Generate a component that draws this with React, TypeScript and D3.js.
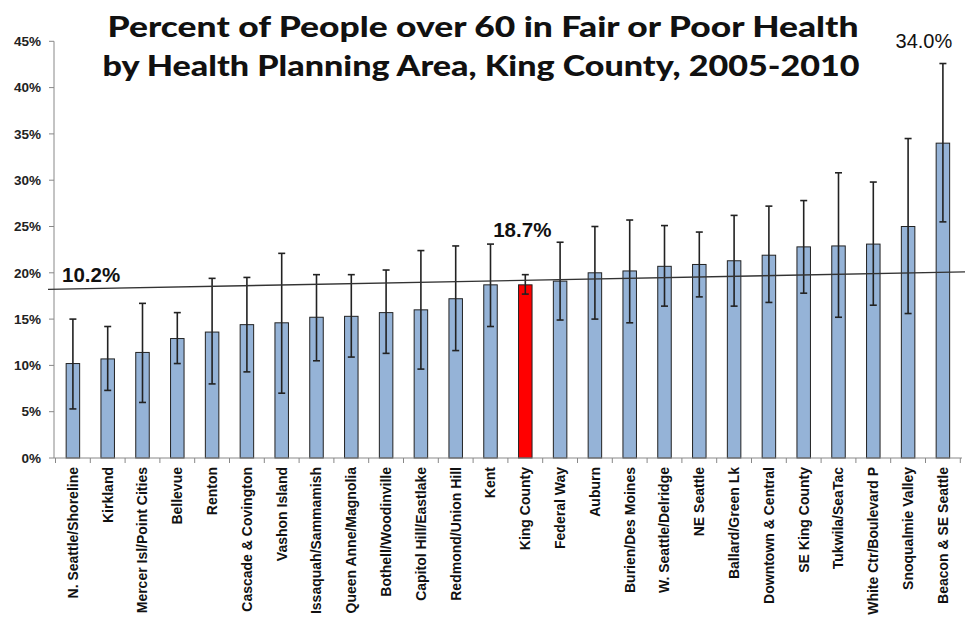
import React from "react";
import * as d3 from "d3";

const categories = [
  "N. Seattle/Shoreline", "Kirkland", "Mercer Isl/Point Cities", "Bellevue", "Renton",
  "Cascade & Covington", "Vashon Island", "Issaquah/Sammamish", "Queen Anne/Magnolia",
  "Bothell/Woodinville", "Capitol Hill/Eastlake", "Redmond/Union Hill", "Kent", "King County",
  "Federal Way", "Auburn", "Burien/Des Moines", "W. Seattle/Delridge", "NE Seattle",
  "Ballard/Green Lk", "Downtown & Central", "SE King County", "Tukwila/SeaTac",
  "White Ctr/Boulevard P", "Snoqualmie Valley", "Beacon & SE Seattle",
];
const values = [10.2, 10.7, 11.4, 12.9, 13.6, 14.4, 14.6, 15.2, 15.3, 15.7, 16.0, 17.2, 18.7, 18.7,
  19.1, 20.0, 20.2, 20.7, 20.9, 21.3, 21.9, 22.8, 22.9, 23.1, 25.0, 34.0];
const errLow = [5.3, 7.3, 6.0, 10.2, 8.0, 9.3, 7.0, 10.5, 10.9, 11.3, 9.6, 11.6, 14.2, 17.7,
  14.9, 15.0, 14.6, 16.4, 17.4, 16.4, 16.8, 17.8, 15.2, 16.5, 15.6, 25.5];
const errHigh = [15.0, 14.2, 16.7, 15.7, 19.4, 19.5, 22.1, 19.8, 19.8, 20.3, 22.4, 22.9, 23.1, 19.8,
  23.3, 25.0, 25.7, 25.1, 24.4, 26.2, 27.2, 27.8, 30.8, 29.8, 34.5, 42.6];
const yTicks = [0, 5, 10, 15, 20, 25, 30, 35, 40, 45];
const trendValues = [18.2, 20.1];
const highlight = "King County";
const titleLines = [
  "Percent of People over 60 in Fair or Poor Health",
  "by Health Planning Area, King County, 2005-2010",
];

export default function App() {
  const W = 972, H = 617;
  const xb = d3.scaleBand<string>().domain(categories).range([55.5, 960.3]);
  const y = d3.scaleLinear().domain([0, 45]).range([458, 41.3]);
  const trendX = d3.scaleLinear().domain([0, 1]).range([48, 965]);
  const cx = (c: string) => (xb(c) as number) + xb.bandwidth() / 2;
  const bw = 13.5;
  const font = "Arial, 'Liberation Sans', sans-serif";
  const iK = categories.indexOf(highlight);
  const iLast = categories.length - 1;

  return (
    <svg width={W} height={H} style={{ position: "absolute", left: 0, top: 0, background: "#fff" }}>
      {/* title */}
      <text x={483} y={37} textAnchor="middle" fontFamily="Lato, 'Open Sans', sans-serif" fontWeight={900} fontSize={28}
        textLength={751} lengthAdjust="spacingAndGlyphs" fill="#111">{titleLines[0]}</text>
      <text x={481} y={76} textAnchor="middle" fontFamily="Lato, 'Open Sans', sans-serif" fontWeight={900} fontSize={28}
        textLength={757} lengthAdjust="spacingAndGlyphs" fill="#111">{titleLines[1]}</text>

      {/* y axis */}
      <line x1={54} x2={54} y1={y(45)} y2={y(0)} stroke="#888" strokeWidth={1} />
      {yTicks.map((t) => (
        <g key={t}>
          <line x1={49} x2={54} y1={y(t)} y2={y(t)} stroke="#888" />
          <text x={41} y={y(t)} dy="0.35em" textAnchor="end" fontFamily={font} fontWeight="bold" fontSize={13.5} fill="#222">{t}%</text>
        </g>
      ))}

      {/* bars */}
      {categories.map((c, i) => (
        <rect key={c} x={cx(c) - bw / 2} y={y(values[i])} width={bw} height={y(0) - y(values[i])}
          fill={c === highlight ? "#ff0000" : "#95b3d7"} stroke="#222" strokeWidth={1} />
      ))}

      {/* x axis */}
      <line x1={54} x2={962} y1={y(0)} y2={y(0)} stroke="#888" strokeWidth={1} />
      {categories.map((c) => (
        <line key={"t" + c} x1={xb(c) as number} x2={xb(c) as number} y1={y(0)} y2={y(0) + 5} stroke="#888" />
      ))}
      <line x1={960.3} x2={960.3} y1={y(0)} y2={y(0) + 5} stroke="#888" />

      {/* error bars */}
      {categories.map((c, i) => (
        <g key={"e" + c} stroke="#222" strokeWidth={1.6}>
          <line x1={cx(c)} x2={cx(c)} y1={y(errHigh[i])} y2={y(errLow[i])} />
          <line x1={cx(c) - 3.5} x2={cx(c) + 3.5} y1={y(errHigh[i])} y2={y(errHigh[i])} />
          <line x1={cx(c) - 3.5} x2={cx(c) + 3.5} y1={y(errLow[i])} y2={y(errLow[i])} />
        </g>
      ))}

      {/* trend line */}
      <line x1={trendX(0)} x2={trendX(1)} y1={y(trendValues[0])} y2={y(trendValues[1])} stroke="#333" strokeWidth={1.3} />

      {/* labels */}
      <text x={62} y={282} fontFamily={font} fontWeight="bold" fontSize={20.5} fill="#111">{values[0].toFixed(1)}%</text>
      <text x={cx(highlight) - 3} y={237} textAnchor="middle" fontFamily={font} fontWeight="bold" fontSize={20.5} fill="#111">{values[iK].toFixed(1)}%</text>
      <text x={cx(categories[iLast]) - 19} y={48} textAnchor="middle" fontFamily={font} fontSize={20} fill="#111">{values[iLast].toFixed(1)}%</text>

      {/* category labels */}
      {categories.map((c) => (
        <text key={"l" + c} transform={`translate(${cx(c)},${y(0) + 9}) rotate(-90)`} textAnchor="end" dy="0.35em"
          fontFamily={font} fontWeight="bold" fontSize={14} fill="#111">{c}</text>
      ))}
    </svg>
  );
}
